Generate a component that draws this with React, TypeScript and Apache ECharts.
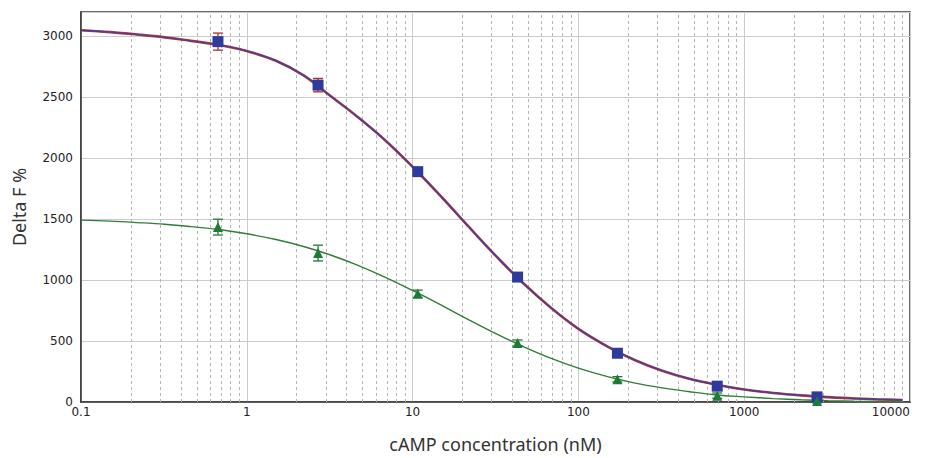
import React, { useEffect, useRef } from "react";
import * as echarts from "echarts";

// cAMP concentrations (nM) of the standards
const concentrations = [0.67, 2.69, 10.74, 42.97, 171.9, 687.5, 2750];
// Blue (squares) measured Delta F % and error
const blueValues = [2957, 2600, 1890, 1025, 400, 130, 42];
const blueErrors = [70, 55, 30, 25, 25, 35, 20];
// Green (triangles) measured Delta F % and error
const greenValues = [1435, 1222, 888, 484, 186, 52, 8];
const greenErrors = [65, 65, 30, 25, 22, 22, 15];

// Fitted curves
const curveX = [0.1, 0.15, 0.22, 0.32, 0.46, 0.68, 1, 1.5, 2.2, 3.2, 4.6, 6.8, 10, 15, 22, 32, 46, 68, 100, 150, 220, 320, 460, 680, 1000, 1500, 2200, 3200, 4600, 6800, 9000];
const blueCurve = [3050, 3035, 3015, 2992, 2963, 2930, 2880, 2800, 2680, 2510, 2345, 2150, 1930, 1680, 1432, 1195, 980, 775, 600, 455, 343, 257, 193, 142, 103, 74, 54, 40, 29, 21, 16];
const greenCurve = [1492, 1484, 1472, 1458, 1439, 1415, 1380, 1333, 1276, 1206, 1125, 1025, 915, 792, 672, 558, 458, 360, 278, 208, 155, 116, 86, 58, 42, 28, 18, 11, 6, 3, 2];

// Axis ticks
const xTickLabels = ["0.1", "1", "10", "100", "1000", "10000"];
const decades = [0.1, 1, 10, 100, 1000];
const minorMultipliers = [2, 3, 4, 5, 6, 7, 8, 9];

const xTitle = "cAMP concentration (nM)";
const yTitle = "Delta F %";

export default function App() {
  const ref = useRef<HTMLDivElement>(null);
  useEffect(() => {
    if (!ref.current) return;
    const chart = echarts.init(ref.current, undefined, { renderer: "svg" });

    const minorLines: { xAxis: number }[] = [];
    decades.forEach((d) =>
      minorMultipliers.forEach((m) => minorLines.push({ xAxis: parseFloat((d * m).toPrecision(6)) }))
    );

    const pairs = (xs: number[], ys: number[]) => xs.map((x, i) => [x, ys[i]]);
    const errData = (vals: number[], errs: number[]) =>
      concentrations.map((x, i) => [x, vals[i] - errs[i], vals[i] + errs[i]]);

    const errRender = (color: string) => (params: any, api: any) => {
      const x = api.value(0);
      const top = api.coord([x, api.value(2)]);
      const bot = api.coord([x, api.value(1)]);
      const w = 5;
      const style = { stroke: color, lineWidth: 1.3 };
      return {
        type: "group",
        children: [
          { type: "line", shape: { x1: top[0], y1: top[1], x2: bot[0], y2: bot[1] }, style },
          { type: "line", shape: { x1: top[0] - w, y1: top[1], x2: top[0] + w, y2: top[1] }, style },
          { type: "line", shape: { x1: bot[0] - w, y1: bot[1], x2: bot[0] + w, y2: bot[1] }, style },
        ],
      };
    };

    const labelFont = { fontFamily: "DejaVu Sans", fontSize: 12, color: "#222" };

    chart.setOption({
      animation: false,
      backgroundColor: "#ffffff",
      grid: {
        left: 81,
        right: 18,
        top: 12,
        bottom: 56,
        show: true,
        borderColor: "#3a3a3a",
        borderWidth: 1.5,
      },
      xAxis: {
        type: "log",
        logBase: 10,
        min: 0.1,
        max: 10000,
        name: xTitle,
        nameLocation: "middle",
        nameGap: 33,
        nameTextStyle: { fontFamily: "Noto Sans", fontSize: 18, color: "#333" },
        axisLine: { lineStyle: { color: "#3a3a3a", width: 1.5 } },
        axisTick: { show: false },
        axisLabel: {
          ...labelFont,
          margin: 4,
          alignMaxLabel: "right",
          formatter: (v: number) => {
            const idx = Math.round(Math.log10(v)) + 1;
            return xTickLabels[idx] ?? "";
          },
        },
        splitLine: { show: true, lineStyle: { color: "#cccccc", width: 1 } },
      },
      yAxis: {
        type: "value",
        min: 0,
        max: 3200,
        interval: 500,
        name: yTitle,
        nameLocation: "middle",
        nameGap: 53,
        nameRotate: 90,
        nameTextStyle: { fontFamily: "Noto Sans", fontSize: 18, color: "#333" },
        axisLine: { show: true, lineStyle: { color: "#3a3a3a", width: 1.5 } },
        axisTick: { show: false },
        axisLabel: {
          ...labelFont,
          margin: 8,
          showMaxLabel: false,
          formatter: (v: number) => (v > 3000 ? "" : String(v)),
        },
        splitLine: { show: true, lineStyle: { color: "#cccccc", width: 1 } },
      },
      series: [
        {
          type: "line",
          data: pairs(curveX, blueCurve),
          smooth: 0.4,
          showSymbol: false,
          lineStyle: { color: "#c8352d", width: 2.6 },
          z: 2,
          markLine: {
            silent: true,
            symbol: ["none", "none"],
            label: { show: false },
            lineStyle: { type: [3, 3], color: "#b5b5b5", width: 1 },
            data: minorLines,
            z: 1,
          },
        },
        {
          type: "line",
          data: pairs(curveX, blueCurve),
          smooth: 0.4,
          showSymbol: false,
          lineStyle: { color: "#3a44a0", width: 1.4 },
          z: 3,
        },
        {
          type: "line",
          data: pairs(curveX, greenCurve),
          smooth: 0.4,
          showSymbol: false,
          lineStyle: { color: "#2f7d3a", width: 1.4 },
          z: 3,
        },
        {
          type: "custom",
          renderItem: errRender("#a8302a"),
          data: errData(blueValues, blueErrors),
          encode: { x: 0, y: [1, 2] },
          z: 4,
        },
        {
          type: "custom",
          renderItem: errRender("#1f7a35"),
          data: errData(greenValues, greenErrors),
          encode: { x: 0, y: [1, 2] },
          z: 4,
        },
        {
          type: "scatter",
          data: pairs(concentrations, blueValues),
          symbol: "rect",
          symbolSize: 11,
          itemStyle: { color: "#2e3a9c", opacity: 1 },
          z: 5,
        },
        {
          type: "scatter",
          data: pairs(concentrations, greenValues),
          symbol: "triangle",
          symbolSize: 10,
          itemStyle: { color: "#1f7a35", opacity: 1 },
          z: 5,
        },
      ],
    });
    return () => chart.dispose();
  }, []);

  return (
    <div
      ref={ref}
      style={{ position: "absolute", left: 0, top: 0, width: 928, height: 458, background: "#fff" }}
    />
  );
}
